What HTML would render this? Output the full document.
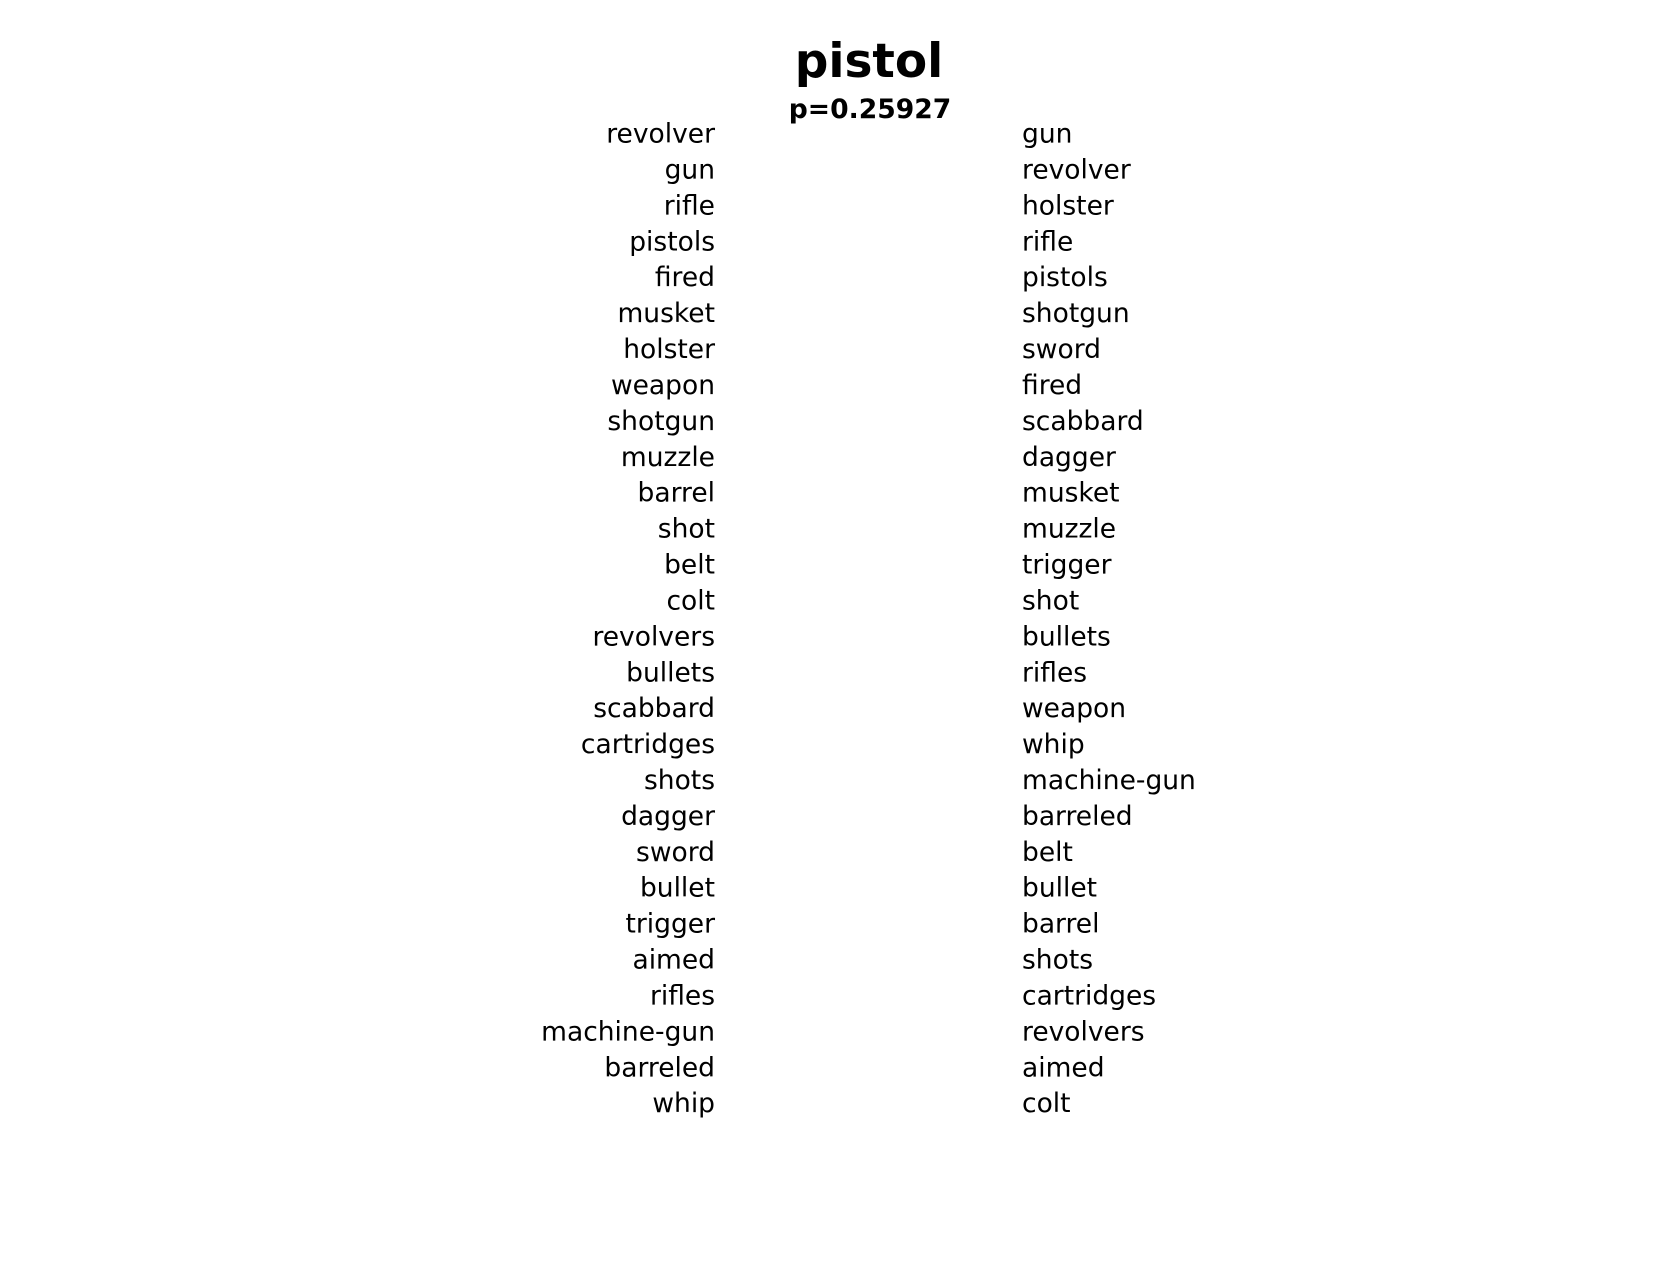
<!DOCTYPE html>
<html><head><meta charset="utf-8"><style>
html,body{margin:0;padding:0;background:#fff;}
svg text{font-family:"DejaVu Sans","Liberation Sans",sans-serif;fill:#000;}
</style></head><body>
<svg id="chart" width="1680" height="1260" viewBox="0 0 1680 1260">
<text x="869" y="77" font-size="47" font-weight="bold" text-anchor="middle">pistol</text>
<text x="870" y="118" font-size="26.6" font-weight="bold" text-anchor="middle">p=0.25927</text>
<g id="left"></g>
<g id="right"></g>
</svg>
<script>
const leftWords = ["revolver","gun","rifle","pistols","fired","musket","holster","weapon","shotgun","muzzle","barrel","shot","belt","colt","revolvers","bullets","scabbard","cartridges","shots","dagger","sword","bullet","trigger","aimed","rifles","machine-gun","barreled","whip"];
const rightWords = ["gun","revolver","holster","rifle","pistols","shotgun","sword","fired","scabbard","dagger","musket","muzzle","trigger","shot","bullets","rifles","weapon","whip","machine-gun","barreled","belt","bullet","barrel","shots","cartridges","revolvers","aimed","colt"];
const NS = "http://www.w3.org/2000/svg";
function rowY(i){ return 142.6 + i*35.91; }
function draw(words, gid, x, anchor){
  const g = document.getElementById(gid);
  words.forEach((w,i)=>{
    const t = document.createElementNS(NS,"text");
    t.setAttribute("x", x);
    t.setAttribute("y", rowY(i));
    t.setAttribute("font-size","26.5");
    t.setAttribute("text-anchor", anchor);
    t.textContent = w;
    
    
    g.appendChild(t);
  });
}
draw(leftWords, "left", 715, "end");
draw(rightWords, "right", 1022, "start");
</script>
</body></html>
